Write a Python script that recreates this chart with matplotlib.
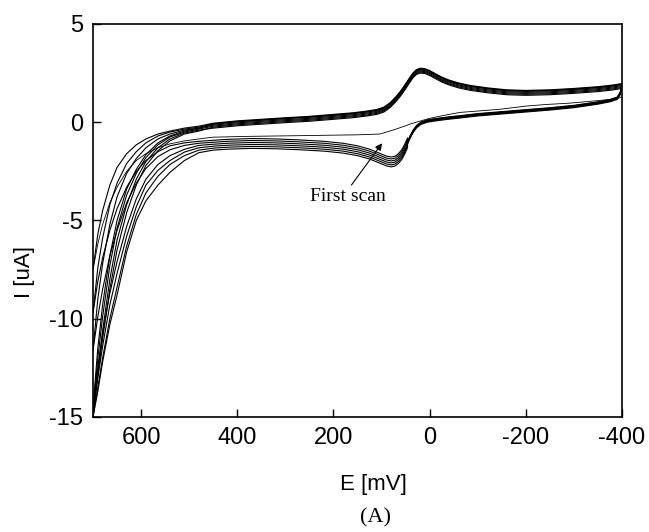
import numpy as np
from matplotlib import pyplot as plt

plt.rcParams['axes.unicode_minus'] = False

# potential grid for the steep part near the 700 mV vertex (descending)
E_tail = [700, 690, 680, 665, 650, 630, 610, 590, 565, 540, 510, 480]

# upper branch tails, one row per scan (current in uA)
tail_up = [
    [-15.0, -12.6, -10.6, -8.0, -6.0, -4.2, -2.9, -2.0, -1.3, -0.85, -0.55, -0.4],
    [-15.0, -12.9, -11.0, -8.5, -6.5, -4.6, -3.2, -2.2, -1.45, -0.95, -0.6, -0.45],
    [-14.8, -12.0, -9.9, -7.3, -5.4, -3.7, -2.6, -1.8, -1.15, -0.75, -0.5, -0.35],
    [-14.5, -11.5, -9.3, -6.8, -5.0, -3.4, -2.4, -1.65, -1.05, -0.7, -0.45, -0.3],
    [-11.6, -9.0, -7.2, -5.2, -3.8, -2.6, -1.85, -1.3, -0.85, -0.6, -0.4, -0.3],
    [-9.7, -7.4, -5.9, -4.2, -3.1, -2.1, -1.5, -1.05, -0.7, -0.5, -0.35, -0.25],
    [-7.5, -5.7, -4.5, -3.2, -2.3, -1.6, -1.15, -0.85, -0.6, -0.45, -0.3, -0.2],
]

# lower branch tails, same grid
tail_low = [
    [-15.0, -13.7, -12.2, -10.3, -8.8, -6.6, -5.0, -4.0, -3.2, -2.55, -1.95, -1.55],
    [-15.0, -13.5, -12.0, -10.0, -8.4, -6.3, -4.7, -3.6, -2.75, -2.15, -1.7, -1.42],
    [-14.8, -13.0, -11.4, -9.3, -7.7, -5.8, -4.3, -3.2, -2.45, -1.95, -1.52, -1.3],
    [-14.5, -12.5, -10.8, -8.7, -7.1, -5.3, -3.9, -2.9, -2.15, -1.7, -1.38, -1.18],
    [-11.6, -9.9, -8.5, -6.8, -5.5, -4.1, -3.1, -2.35, -1.75, -1.4, -1.18, -1.07],
    [-9.7, -8.1, -6.9, -5.5, -4.4, -3.3, -2.5, -1.95, -1.5, -1.2, -1.05, -0.97],
    [-7.5, -6.2, -5.2, -4.1, -3.3, -2.5, -1.95, -1.6, -1.3, -1.1, -0.95, -0.85],
]

# upper branch, 450 -> -400 mV (reduction wave)
E_up = [450, 400, 350, 300, 250, 200, 160, 130, 110, 95, 82, 70, 60, 50, 42, 35, 28,
        20, 10, 0, -12, -25, -40, -60, -85, -120, -160, -200, -250, -300, -350, -380, -400]
I_up = [-0.2, -0.08, 0.0, 0.08, 0.15, 0.25, 0.33, 0.42, 0.5, 0.62, 0.85, 1.15, 1.45, 1.8,
        2.1, 2.35, 2.52, 2.6, 2.58, 2.48, 2.32, 2.15, 2.0, 1.85, 1.72, 1.6, 1.5, 1.47,
        1.5, 1.57, 1.66, 1.74, 1.82]

# lower branch after reversal, -400 -> 46 mV
E_low_r = [-400, -396, -390, -375, -350, -300, -250, -200, -150, -100, -65, -35, -10,
           5, 18, 27, 34, 40, 46]
I_low_r = [1.82, 1.45, 1.22, 1.1, 0.98, 0.8, 0.68, 0.58, 0.48, 0.38, 0.28, 0.2, 0.12,
           0.06, -0.05, -0.22, -0.45, -0.72, -1.05]

# lower branch, 46 -> 450 mV (oxidation wave and plateau)
E_low_l = [46, 52, 58, 65, 72, 80, 90, 105, 125, 150, 180, 220, 270, 320, 370, 420, 450]
I_low_l = [-1.05, -1.38, -1.65, -1.85, -1.98, -2.02, -1.97, -1.82, -1.62, -1.45, -1.32,
           -1.22, -1.15, -1.1, -1.08, -1.12, -1.17]

# per-scan spread of the repeated cycles
up_off = [-0.1, -0.05, 0.0, 0.05, 0.1, 0.12, 0.15]
low_off_r = [-0.06, -0.03, 0.0, 0.02, 0.04, 0.06]
low_off_l = [-0.25, -0.15, -0.05, 0.05, 0.15, 0.25]

# first scan, lower branch (no oxidation peak yet)
E_first = [-400, -390, -350, -290, -240, -200, -146, -100, -63, -30, 0, 35, 70, 103,
           150, 207, 260, 320, 380, 450]
I_first = [1.3, 1.2, 1.1, 0.97, 0.9, 0.82, 0.66, 0.57, 0.5, 0.35, 0.2, -0.05, -0.35,
           -0.6, -0.64, -0.66, -0.68, -0.7, -0.72, -0.76]

fig = plt.figure(figsize=(6.49, 5.32), dpi=100)
ax = fig.add_axes([0.1433, 0.2162, 0.8151, 0.7387])

lw = 0.8
for k in range(len(tail_up)):
    # sweep from 700 towards -400
    e = list(E_tail) + E_up
    i = list(tail_up[k]) + [v + up_off[k] for v in I_up]
    ax.plot(e, i, color='black', lw=lw)

for k in range(len(low_off_l)):
    # return sweep from -400 back to 700
    e = E_low_r + E_low_l + E_tail[::-1]
    i = ([v + low_off_r[k] for v in I_low_r] +
         [v + low_off_l[k] for v in I_low_l] +
         tail_low[k][::-1])
    ax.plot(e, i, color='black', lw=lw)

ax.plot(E_first + E_tail[::-1], I_first + tail_low[-1][::-1], color='black', lw=0.6)

ax.set_xlim(700, -400)
ax.set_ylim(-15, 5)
ax.set_xticks([600, 400, 200, 0, -200, -400])
ax.set_yticks([5, 0, -5, -10, -15])

for s in ax.spines.values():
    s.set_linewidth(1.2)
ax.tick_params(direction='in', length=6, width=1.0, labelsize=17, pad=7)
for lab in ax.get_xticklabels() + ax.get_yticklabels():
    lab.set_family('Liberation Sans')

ax.set_xlabel('E [mV]', fontsize=16, family='Liberation Sans')
ax.set_ylabel('I [uA]', fontsize=16, family='Liberation Sans')
ax.xaxis.set_label_coords(0.53, -0.145)
ax.yaxis.set_label_coords(-0.11, 0.37)

ax.annotate('First scan', xy=(99, -1.07), xytext=(170, -3.77),
            fontsize=14, family='Liberation Serif', ha='center', va='center',
            arrowprops=dict(arrowstyle='-|>', color='black', lw=0.8,
                            mutation_scale=10, shrinkA=0, shrinkB=0,
                            relpos=(0.52, 1.0)))

fig.text(0.578, 0.018, '(A)', fontsize=16, family='Liberation Serif', ha='center')

plt.savefig('out.png')
plt.close()
